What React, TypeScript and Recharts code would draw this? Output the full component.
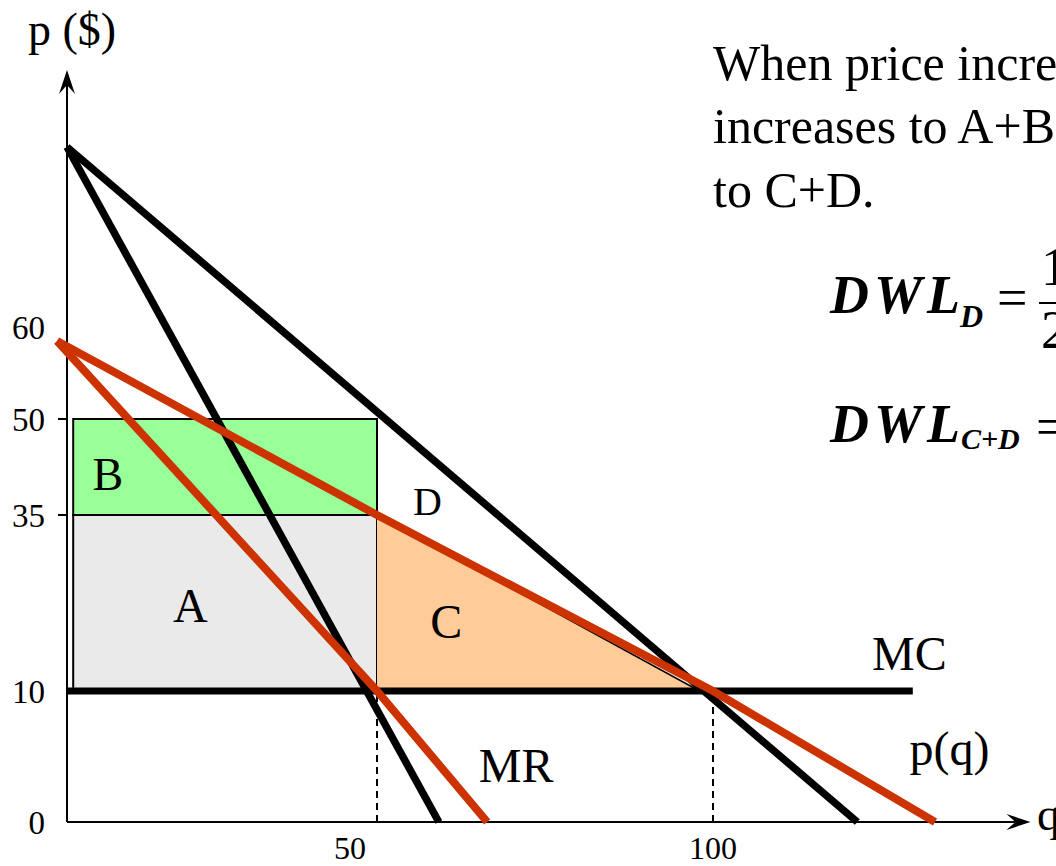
import React from 'react';
import {
  ComposedChart,
  Line,
  Area,
  XAxis,
  YAxis,
  ReferenceArea,
  ReferenceLine,
  ReferenceDot,
} from 'recharts';

const SERIF = '"Liberation Serif", "Times New Roman", serif';
const RED = '#CC3300';

// ---- Market curves: quantity q, price p ($) ----
const blackDemand = [{ q: 0, p: 90 }, { q: 113, p: 0 }];
const blackMR = [{ q: 0, p: 90 }, { q: 59.2, p: 0 }];
const redDemand = [{ q: -1.6, p: 60 }, { q: 50, p: 35 }, { q: 100, p: 10 }, { q: 120, p: 0 }];
const redMR = [{ q: -1.6, p: 60 }, { q: 50, p: 10 }, { q: 66.4, p: 0 }];
const marginalCost = [{ q: 0, p: 10 }, { q: 118, p: 10 }];
const deadweightC = [{ q: 50, p: 35 }, { q: 98, p: 10 }];

// ---- Shaded rectangles (profit areas) ----
const areaA = { q1: 1, q2: 50, p1: 10, p2: 35 };
const areaB = { q1: 1, q2: 50, p1: 35, p2: 50 };
const mcPrice = 10;
const dropQuantities = [50, 100];

// ---- Axis ticks and extents ----
const priceTicks = [0, 10, 35, 50, 60];
const quantityTicks = [50, 100];
const priceMarks = [35, 50];
const axisEnd = { q: 128.6, p: 101.9 };

// ---- Region / curve labels ----
const curveLabels = [
  { text: 'B', q: 6.6, p: 38.9, size: 46 },
  { text: 'A', q: 19.9, p: 19.8, size: 48 },
  { text: 'C', q: 60.3, p: 17.5, size: 48 },
  { text: 'D', q: 57.5, p: 35, size: 40 },
  { text: 'MR', q: 70.7, p: 3.05, size: 48 },
  { text: 'MC', q: 117.7, p: 13, size: 48 },
  { text: 'p(q)', q: 121.3, p: 4.35, size: 48 },
];

// The diagram is drawn not to scale: each axis maps values to a distance (px)
// from the origin by piecewise-linear stops.
const quantityStops: [number, number][] = [[0, 0], [50, 310], [100, 646], [120, 868]];
const priceStops: [number, number][] = [[0, 0], [10, 131], [35, 307], [50, 403], [60, 481], [90, 675]];

// tick label nudges, as laid out on the diagram
const quantityTickShift: Record<number, number> = { 50: -27 };
const priceTickShift: Record<number, number> = { 60: -14 };

function stopScale(stops: [number, number][]): any {
  let dom: number[] = [stops[0][0], stops[stops.length - 1][0]];
  let rng: number[] = [0, 1];
  const dist = (v: number) => {
    let i = 1;
    while (i < stops.length - 1 && v > stops[i][0]) i++;
    const [v0, d0] = stops[i - 1];
    const [v1, d1] = stops[i];
    return d0 + ((v - v0) * (d1 - d0)) / (v1 - v0);
  };
  const scale: any = (v: any) => {
    const dir = rng[1] >= rng[0] ? 1 : -1;
    return rng[0] + dir * dist(Number(v));
  };
  scale.domain = (d?: number[]) => {
    if (d === undefined) return dom.slice();
    dom = d.slice();
    return scale;
  };
  scale.range = (r?: number[]) => {
    if (r === undefined) return rng.slice();
    rng = r.slice();
    return scale;
  };
  scale.copy = () => stopScale(stops).domain(dom).range(rng);
  scale.ticks = () => stops.map((s) => s[0]);
  scale.invert = (px: number) => {
    const dir = rng[1] >= rng[0] ? 1 : -1;
    const d = (px - rng[0]) * dir;
    let i = 1;
    while (i < stops.length - 1 && d > stops[i][1]) i++;
    const [v0, d0] = stops[i - 1];
    const [v1, d1] = stops[i];
    return v0 + ((d - d0) * (v1 - v0)) / (d1 - d0);
  };
  return scale;
}

const quantityScale = stopScale(quantityStops);
const priceScale = stopScale(priceStops);

const PriceTick = (props: any) => {
  const { x, y, payload } = props;
  const v = payload.value as number;
  return (
    <g>
      {priceMarks.includes(v) && (
        <line x1={x + 13} x2={x + 22} y1={y} y2={y} stroke="#000" strokeWidth={2} />
      )}
      <text
        x={x}
        y={y + (priceTickShift[v] || 0)}
        dy="0.35em"
        textAnchor="end"
        fontFamily={SERIF}
        fontSize={33}
        fill="#000"
      >
        {v}
      </text>
    </g>
  );
};

const QuantityTick = (props: any) => {
  const { x, y, payload } = props;
  const v = payload.value as number;
  return (
    <text
      x={x + (quantityTickShift[v] || 0)}
      y={y}
      dy="0.71em"
      textAnchor="middle"
      fontFamily={SERIF}
      fontSize={32}
      fill="#000"
    >
      {v}
    </text>
  );
};

// axis line with a notched arrow head at its far end
const ArrowAxis = (props: any) => {
  const { x1, y1, x2, y2 } = props;
  const ang = Math.atan2(y2 - y1, x2 - x1);
  const c = Math.cos(ang);
  const s = Math.sin(ang);
  const L = 24;
  const W = 8;
  const N = 9;
  const pt = (a: number, b: number) => `${x2 - a * c - b * s},${y2 - a * s + b * c}`;
  return (
    <g>
      <line x1={x1} y1={y1} x2={x2 - (L - N) * c} y2={y2 - (L - N) * s} stroke="#000" strokeWidth={2} />
      <polygon points={`${x2},${y2} ${pt(L, W)} ${pt(L - N, 0)} ${pt(L, -W)}`} fill="#000" />
    </g>
  );
};

const labelShape = (text: string, size: number) => (props: any) => (
  <text x={props.cx} y={props.cy} textAnchor="middle" fontFamily={SERIF} fontSize={size} fill="#000">
    {text}
  </text>
);

export default function App() {
  return (
    <div
      style={{
        position: 'absolute',
        left: 0,
        top: 0,
        width: 1056,
        height: 866,
        overflow: 'hidden',
        background: '#fff',
      }}
    >
      <ComposedChart width={1056} height={866} margin={{ top: 60, right: 0, bottom: 0, left: 0 }}>
        <XAxis
          type="number"
          dataKey="q"
          domain={[0, 130]}
          scale={quantityScale}
          ticks={quantityTicks}
          height={44}
          axisLine={false}
          tickLine={false}
          tickSize={0}
          tickMargin={14}
          tick={<QuantityTick />}
          interval={0}
        />
        <YAxis
          type="number"
          dataKey="p"
          domain={[0, 100]}
          scale={priceScale}
          ticks={priceTicks}
          width={67}
          axisLine={false}
          tickLine={false}
          tickSize={0}
          tickMargin={22}
          tick={<PriceTick />}
          interval={0}
        />

        <ReferenceArea
          x1={areaA.q1}
          x2={areaA.q2}
          y1={areaA.p1}
          y2={areaA.p2}
          fill="#EAEAEA"
          fillOpacity={1}
          stroke="#000"
          strokeWidth={2}
          ifOverflow="visible"
        />
        <ReferenceArea
          x1={areaB.q1}
          x2={areaB.q2}
          y1={areaB.p1}
          y2={areaB.p2}
          fill="#99FF99"
          fillOpacity={1}
          stroke="#000"
          strokeWidth={2}
          ifOverflow="visible"
        />

        <Area
          data={deadweightC}
          dataKey="p"
          type="linear"
          baseValue={mcPrice}
          fill="#FFCC99"
          fillOpacity={1}
          stroke="#000"
          strokeWidth={1.5}
          dot={false}
          activeDot={false}
          isAnimationActive={false}
        />

        {dropQuantities.map((q) => (
          <ReferenceLine
            key={`drop-${q}`}
            segment={[{ x: q, y: 0 }, { x: q, y: mcPrice }]}
            stroke="#000"
            strokeWidth={2}
            strokeDasharray="7 5"
            ifOverflow="visible"
          />
        ))}

        <ReferenceLine
          segment={[{ x: 0, y: 0 }, { x: axisEnd.q, y: 0 }]}
          shape={ArrowAxis}
          ifOverflow="visible"
        />
        <ReferenceLine
          segment={[{ x: 0, y: 0 }, { x: 0, y: axisEnd.p }]}
          shape={ArrowAxis}
          ifOverflow="visible"
        />

        <Line
          data={marginalCost}
          dataKey="p"
          type="linear"
          stroke="#000"
          strokeWidth={7}
          dot={false}
          activeDot={false}
          isAnimationActive={false}
        />
        <Line
          data={blackDemand}
          dataKey="p"
          type="linear"
          stroke="#000"
          strokeWidth={7.5}
          dot={false}
          activeDot={false}
          isAnimationActive={false}
        />
        <Line
          data={blackMR}
          dataKey="p"
          type="linear"
          stroke="#000"
          strokeWidth={7.5}
          dot={false}
          activeDot={false}
          isAnimationActive={false}
        />
        <Line
          data={redMR}
          dataKey="p"
          type="linear"
          stroke={RED}
          strokeWidth={8}
          dot={false}
          activeDot={false}
          isAnimationActive={false}
        />
        <Line
          data={redDemand}
          dataKey="p"
          type="linear"
          stroke={RED}
          strokeWidth={8}
          dot={false}
          activeDot={false}
          isAnimationActive={false}
        />

        {curveLabels.map((l) => (
          <ReferenceDot
            key={l.text}
            x={l.q}
            y={l.p}
            r={0}
            ifOverflow="visible"
            shape={labelShape(l.text, l.size)}
          />
        ))}
      </ComposedChart>

      <svg
        width={1056}
        height={866}
        style={{ position: 'absolute', left: 0, top: 0, pointerEvents: 'none' }}
      >
        <g fontFamily={SERIF} fill="#000">
          <text x={28} y={45} fontSize={46}>p ($)</text>
          <text x={1037} y={830} fontSize={46}>q</text>

          <text x={713} y={80} fontSize={50}>When price increases</text>
          <text x={713} y={143} fontSize={50}>increases to A+B</text>
          <text x={713} y={207} fontSize={50}>to C+D.</text>

          <g fontStyle="italic" fontWeight="bold">
            <text x={830} y={313} fontSize={54} textLength={130} lengthAdjust="spacing">DWL</text>
            <text x={960} y={327} fontSize={32}>D</text>

            <text x={830} y={442} fontSize={54} textLength={130} lengthAdjust="spacing">DWL</text>
            <text x={961} y={449} fontSize={30}>C+D</text>
          </g>
          <text x={997} y={316} fontSize={54}>=</text>
          <text x={1041} y={285} fontSize={54}>1</text>
          <line x1={1039} x2={1060} y1={303} y2={303} stroke="#000" strokeWidth={2} />
          <text x={1041} y={348} fontSize={54}>2</text>
          <text x={1036} y={445} fontSize={54}>=</text>
        </g>
      </svg>
    </div>
  );
}
